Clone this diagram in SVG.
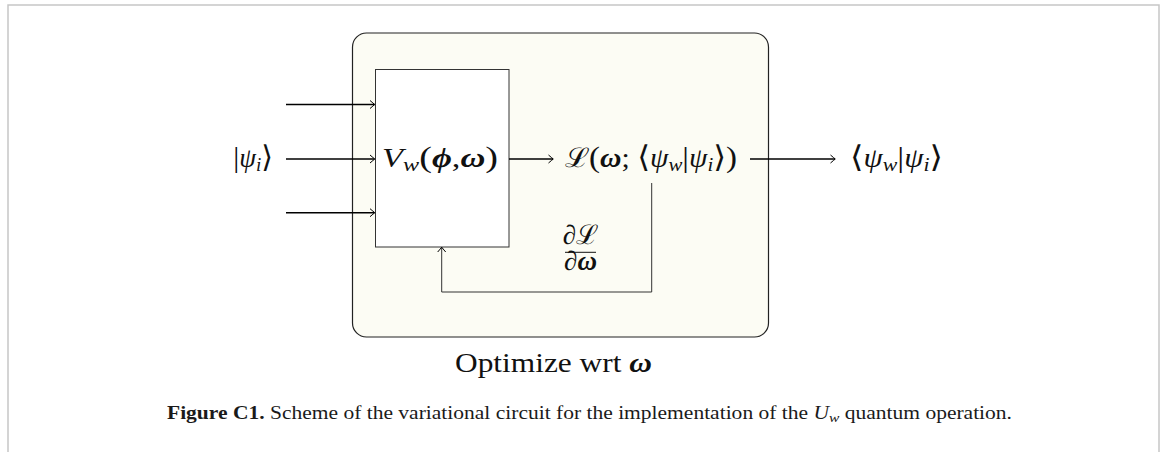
<svg xmlns="http://www.w3.org/2000/svg" width="1168" height="452" viewBox="0 0 1168 452">
<style>
.m{font-family:"Liberation Serif","DejaVu Serif",serif;font-size:27px;fill:#111}
.i{font-style:italic}
.b{font-weight:bold;font-style:italic}
.d{font-size:30px}
.cap{font-family:"Liberation Serif","DejaVu Serif",serif;font-size:18px;fill:#1a1a1a}
.wire{stroke:#000;stroke-width:1.4;fill:none}
.fb{stroke:#333;stroke-width:1;fill:none}
</style>
<defs>
<marker id="ah" markerWidth="10" markerHeight="10" viewBox="-6 -5 8 10" refX="0" refY="0" orient="auto" markerUnits="userSpaceOnUse">
<path d="M-4.5,-4 Q-1,-1 0.3,0 Q-1,1 -4.5,4" fill="none" stroke="#000" stroke-width="1"/>
</marker>
</defs>
<path d="M8,452 V5 H1159 V452" fill="none" stroke="#c6c6c6" stroke-width="1.5"/>
<g id="optimizer">
<rect x="352.5" y="33" width="416" height="304" rx="14" fill="#fcfcf4" stroke="#222" stroke-width="1.2"/>
<text class="m" x="455" y="372" textLength="197" lengthAdjust="spacingAndGlyphs">Optimize wrt <tspan class="b">ω</tspan></text>
</g>
<g id="vw">
<rect x="375.5" y="69.5" width="133.5" height="177.5" fill="#fff" stroke="#333" stroke-width="1"/>
<text class="m" x="382" y="167" textLength="116" lengthAdjust="spacingAndGlyphs"><tspan class="i">V</tspan><tspan class="i" font-size="19" dy="4">w</tspan><tspan class="d" dy="-4">(</tspan><tspan class="b">ϕ</tspan>,<tspan class="b">ω</tspan><tspan class="d">)</tspan></text>
</g>
<g id="input">
<text class="m" x="273" y="167" text-anchor="end"><tspan class="d">|</tspan><tspan class="i">ψ</tspan><tspan class="i" font-size="19" dy="4">i</tspan><tspan class="d" dy="-4">⟩</tspan></text>
</g>
<g id="loss">
<text class="m" x="565" y="167" textLength="172" lengthAdjust="spacingAndGlyphs">ℒ<tspan class="d">(</tspan><tspan class="b">ω</tspan>; <tspan class="d">⟨</tspan><tspan class="i">ψ</tspan><tspan class="i" font-size="19" dy="4">w</tspan><tspan class="d" dy="-4">|</tspan><tspan class="i">ψ</tspan><tspan class="i" font-size="19" dy="4">i</tspan><tspan class="d" dy="-4">⟩)</tspan></text>
</g>
<g id="output">
<text class="m" x="850" y="167" textLength="93" lengthAdjust="spacingAndGlyphs"><tspan class="d">⟨</tspan><tspan class="i">ψ</tspan><tspan class="i" font-size="19" dy="4">w</tspan><tspan class="d" dy="-4">|</tspan><tspan class="i">ψ</tspan><tspan class="i" font-size="19" dy="4">i</tspan><tspan class="d" dy="-4">⟩</tspan></text>
</g>
<g id="connectors">
<line class="wire" x1="286" y1="104.5" x2="374.5" y2="104.5" marker-end="url(#ah)"/>
<line class="wire" x1="286" y1="159" x2="374.5" y2="159" marker-end="url(#ah)"/>
<line class="wire" x1="286" y1="212.7" x2="374.5" y2="212.7" marker-end="url(#ah)"/>
<line class="wire" x1="509" y1="159" x2="553" y2="159" marker-end="url(#ah)"/>
<line class="wire" x1="750" y1="159" x2="835" y2="159" marker-end="url(#ah)"/>
<path class="fb" d="M651.7,183 V292 H441.7 V247.5" marker-end="url(#ah)"/>
<g id="gradient-label">
<text class="m" x="580.5" y="244" font-size="16" text-anchor="middle">∂ℒ</text>
<line x1="565" y1="252.3" x2="596" y2="252.3" stroke="#111" stroke-width="1"/>
<text class="m" x="580.5" y="270" font-size="18" text-anchor="middle">∂<tspan class="b">ω</tspan></text>
</g>
</g>
<text class="cap" x="167" y="419" textLength="845" lengthAdjust="spacingAndGlyphs"><tspan font-weight="bold">Figure C1.</tspan> Scheme of the variational circuit for the implementation of the <tspan font-style="italic">U</tspan><tspan font-style="italic" font-size="13" dy="3">w</tspan><tspan dy="-3"> quantum operation.</tspan></text>
</svg>
